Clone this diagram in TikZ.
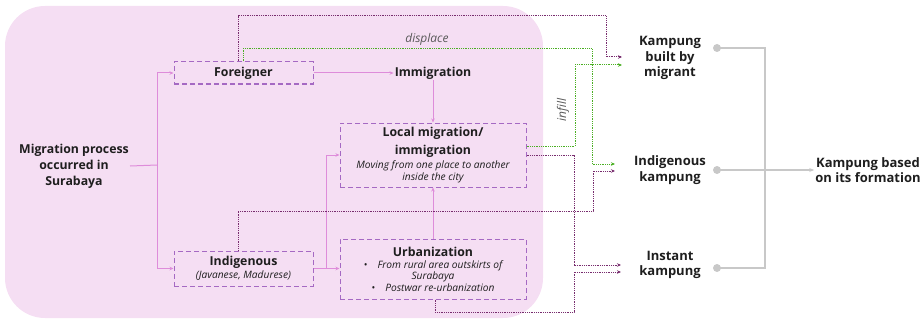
\documentclass[tikz,border=0pt]{standalone}
\usepackage{fontspec}
\setmainfont{Open Sans}
\usetikzlibrary{arrows.meta,positioning,calc}
\definecolor{bgpink}{RGB}{245,222,243}
\definecolor{linepink}{RGB}{222,140,218}
\definecolor{boxpurple}{RGB}{165,105,195}
\definecolor{dotpurple}{RGB}{120,45,110}
\definecolor{dotgreen}{RGB}{75,175,35}
\definecolor{linegray}{RGB}{200,200,200}
\definecolor{textdark}{RGB}{30,30,30}
\newcommand{\boxhead}{\fontsize{12.3}{14}\selectfont\bfseries}
\newcommand{\boxnote}{\fontsize{10.2}{14}\selectfont\itshape}
\newcommand{\bul}{\textbullet\hspace{10pt}}
\tikzset{
  title/.style={font=\bfseries\fontsize{12.3}{16}\selectfont, align=center, text=textdark, inner sep=1pt},
  bigtitle/.style={title, font=\bfseries\fontsize{13}{15.5}\selectfont},
  dashbox/.style={draw=boxpurple, dash pattern=on 5pt off 3pt, line width=1pt, inner sep=2pt, align=center, text=textdark},
  small/.style={font=\itshape\fontsize{12}{14}\selectfont, text=black!65, inner sep=1pt},
  pinkline/.style={draw=linepink, line width=1pt},
  pinkarrow/.style={pinkline, -{Stealth[length=4pt,width=3.5pt]}},
  dotline/.style={line width=1pt, dash pattern=on 1pt off 0.8pt, -{Stealth[length=4pt,width=3.5pt]}},
  grayline/.style={draw=linegray, line width=1.1pt},
  dotend/.style={circle, fill=linegray, inner sep=0pt, minimum size=8pt}
}
\begin{document}
\begin{tikzpicture}[x=1pt,y=-1pt]
  \useasboundingbox (0,0) rectangle (921,321);
  % background
  \fill[bgpink, rounded corners=40pt] (5,6) rectangle (543,318);
  % left side
  \node[title] (mig) at (74,166) {Migration process\\occurred in\\Surabaya};
  \node[dashbox, minimum width=139pt, minimum height=22pt] (fore) at (243.5,73)
    {\boxhead Foreigner};
  \node[title] (immi) at (433,73) {Immigration};
  \node[dashbox, minimum width=186pt, minimum height=64pt] (local) at (433,155)
    {\boxhead Local migration/\\[4pt]\boxhead immigration\\[2pt]
     \boxnote Moving from one place to another\\\boxnote inside the city};
  \node[dashbox, minimum width=139pt, minimum height=35pt] (indi) at (243.5,268.5)
    {\boxhead Indigenous\\[1pt]\boxnote (Javanese, Madurese)};
  \node[dashbox, minimum width=186pt, minimum height=60pt] (urban) at (433,269)
    {\boxhead Urbanization\\[0pt]
     \boxnote \bul From rural area outskirts of\\[-1pt]\boxnote Surabaya\\
     \boxnote \bul Postwar re-urbanization};
  % right side
  \node[bigtitle] (built) at (670,58) {Kampung\\built by\\migrant};
  \node[bigtitle] (indk) at (670,170) {Indigenous\\kampung};
  \node[bigtitle] (inst) at (670,265) {Instant\\kampung};
  \node[bigtitle] (based) at (868,170) {Kampung based\\on its formation};
  \node[small] (displace) at (427,39) {displace};
  \node[small, rotate=90] (infill) at (563,110) {infill};
  % pink connectors
  \coordinate (fork) at (157,165);
  \draw[pinkline] (mig.east) -- (fork);
  \draw[pinkline] (fork |- fore.west) -- (fork |- indi.west);
  \draw[pinkarrow] (fork |- fore.west) -- (fore.west);
  \draw[pinkarrow] (fork |- indi.west) -- (indi.west);
  \draw[pinkarrow] (fore.east) -- (immi.west);
  \draw[pinkarrow] (immi.south) -- (local.north);
  \draw[pinkarrow] (urban.north) -- (local.south);
  \coordinate (join) at (326,268.5);
  \draw[pinkline] (indi.east) -- (join);
  \draw[pinkarrow] (join) -- (urban.west |- join);
  \draw[pinkline] (join) -- (join |- 0,155);
  \draw[pinkarrow] (join |- 0,155) -- (local.west |- 0,155);
  % dotted connectors
  \coordinate (builtA) at (622,57);
  \coordinate (builtB) at (622,65);
  \coordinate (indkA) at (615,164);
  \coordinate (indkB) at (615,171);
  \coordinate (instA) at (621,265);
  \coordinate (instB) at (621,272);
  \draw[dotline, dotpurple] (fore.north -| 238,0) -- (238,16) -- (606,16) |- (builtA);
  \draw[dotline, dotgreen] (fore.north -| 243,0) -- (243,49) -- (592,49) |- (indkA);
  \draw[dotline, dotgreen] (local.east |- 0,146) -- (575,146) |- (builtB);
  \draw[dotline, dotpurple] (local.east |- 0,155) -- (574,155) |- (instA);
  \draw[dotline, dotpurple] (indi.north -| 238,0) -- (238,211) -- (593,211) |- (indkB);
  \draw[dotline, dotpurple] (urban.south -| 435,0) -- (435,312) -- (574,312) |- (instB);
  % gray connectors
  \node[dotend] (c1) at (717,48) {};
  \node[dotend] (c2) at (717,170) {};
  \node[dotend] (c3) at (717,268) {};
  \coordinate (bus) at (765,170);
  \draw[grayline] (c1.center) -| (bus |- c3.center) -- (c3.center);
  \draw[grayline, -{Stealth[length=5pt,width=4pt]}] (c2.center) -- (based.west);
\end{tikzpicture}
\end{document}
